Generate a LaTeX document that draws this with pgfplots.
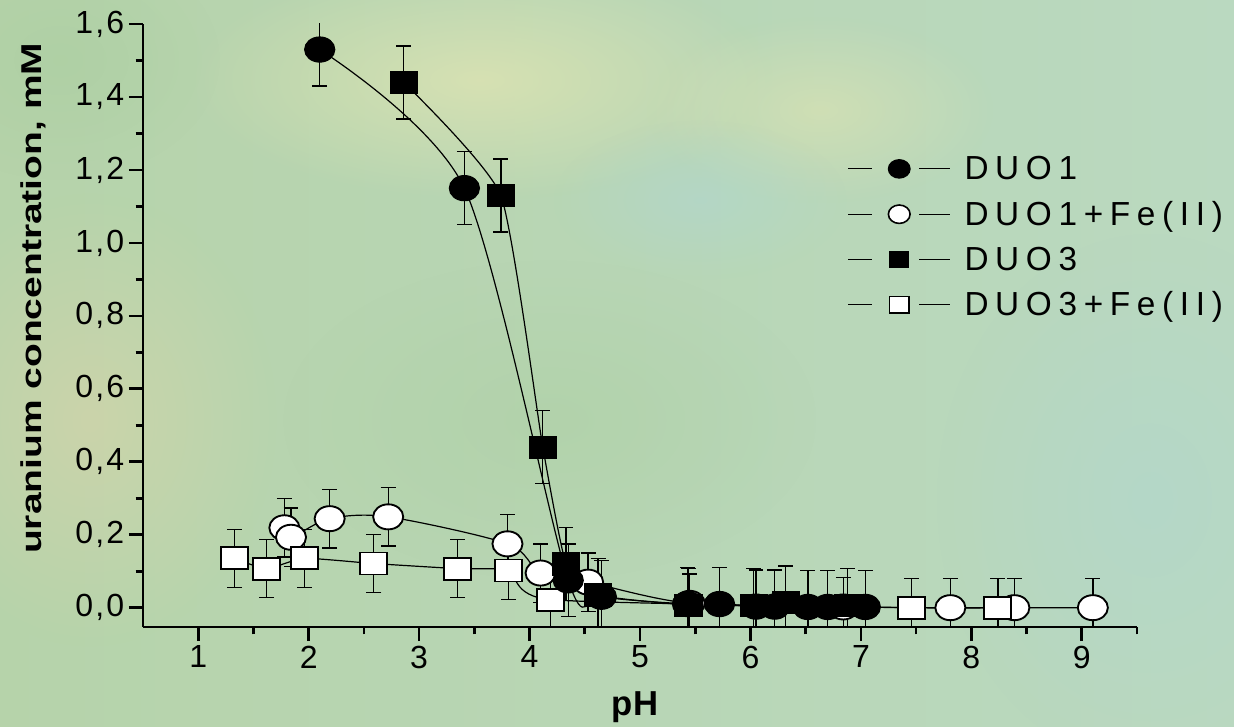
\documentclass[border=0pt]{standalone}
\usepackage{fontspec}
\setmainfont{Liberation Sans}
\newfontfamily\tickfamily[LetterSpace=7]{Liberation Sans}
\newfontfamily\legfamily[LetterSpace=20]{Liberation Sans}
\usepackage{graphicx}
\usepackage{pgfplots}
\usepackage{pgfplotstable}
\pgfplotsset{compat=1.18}
\usetikzlibrary{calc,backgrounds,fadings}

\tikzfading[name=softspot, inner color=transparent!0, outer color=transparent!100]

\definecolor{bgA}{RGB}{182,211,170}
\definecolor{bgB}{RGB}{206,224,182}
\definecolor{bgC}{RGB}{186,217,192}
\definecolor{tintY}{RGB}{222,228,178}
\definecolor{tintB}{RGB}{178,215,204}
\definecolor{tintT}{RGB}{212,212,170}
\definecolor{tintG}{RGB}{172,207,162}

% pH, concentration (mM), error
\pgfplotstableread{
x y e
2.10 1.53 0.1
3.41 1.15 0.1
4.35 0.075 0.1
4.65 0.030 0.1
5.43 0.010 0.1
5.72 0.010 0.1
6.05 0.003 0.1
6.22 0.003 0.1
6.52 0.002 0.1
6.70 0.002 0.1
7.04 0.002 0.1
}\duoone

\pgfplotstableread{
x y e
1.78 0.219 0.08
1.84 0.193 0.08
2.19 0.244 0.08
2.72 0.249 0.08
3.80 0.175 0.08
4.10 0.095 0.08
4.53 0.070 0.08
5.45 0.012 0.08
6.84 0.002 0.08
7.81 0.000 0.08
8.39 0.000 0.08
9.10 0.000 0.08
}\duoonefe

\pgfplotstableread{
x y e
2.86 1.44 0.1
3.74 1.13 0.1
4.12 0.44 0.1
4.33 0.12 0.1
4.62 0.035 0.1
5.44 0.007 0.1
6.03 0.007 0.1
6.32 0.014 0.1
6.88 0.007 0.1
}\duothree

\pgfplotstableread{
x y e
1.33 0.135 0.08
1.62 0.107 0.08
1.96 0.135 0.08
2.59 0.121 0.08
3.35 0.107 0.08
3.81 0.102 0.08
4.19 0.022 0.08
7.46 0.000 0.08
8.24 0.000 0.08
}\duothreefe

\begin{document}
\begin{tikzpicture}
\begin{axis}[
  scale only axis,
  width=745.5pt, height=452.25pt,
  xmin=0.5, xmax=9.5, ymin=-0.053, ymax=1.6,
  axis lines*=left,
  axis line style={line width=2pt, black},
  tick style={line width=2pt, black},
  tick align=outside,
  major tick length=10.5pt,
  minor tick length=5.5pt,
  xtick={1,2,3,4,5,6,7,8,9},
  minor xtick={1.5,2.5,3.5,4.5,5.5,6.5,7.5,8.5,9.5},
  ytick={0,0.2,0.4,0.6,0.8,1.0,1.2,1.4,1.6},
  minor ytick={0.1,0.3,0.5,0.7,0.9,1.1,1.3,1.5},
  /pgf/number format/assume math mode=true,
  ticklabel style={font=\tickfamily\fontsize{24}{28}\selectfont},
  yticklabel style={/pgf/number format/.cd, fixed, fixed zerofill, precision=1, use comma},
  xticklabel style={/pgf/number format/.cd, fixed, precision=0},
  xlabel={pH},
  xlabel style={font=\bfseries\fontsize{26}{30}\selectfont, at={(axis description cs:0.495,-0.146)}, anchor=base},
  ylabel={\scalebox{1.36}[1]{uranium concentration, mM}},
  ylabel style={font=\bfseries\fontsize{21.5}{24}\selectfont, at={(axis description cs:-0.11,0.545)}, anchor=center, rotate=0},
  error bars/error bar style={line width=1pt, black, solid},
  error bars/error mark options={rotate=90, mark size=5.6pt, line width=1pt, black},
  % fixed row height; the line is broken around the marker
  legend image code/.code={
    \path[draw=none, fill=none] (0pt,-17pt) rectangle (76.5pt,17pt);
    \draw[#1, mark=none] (0pt,0pt) -- (18pt,0pt);
    \draw[#1, mark=none] (53.25pt,0pt) -- (76.5pt,0pt);
    \draw[#1] plot coordinates {(38.25pt,0pt)};
  },
  legend cell align=left,
  legend style={draw=none, fill=none, at={(axis cs:6.88,1.265)}, anchor=north west,
    inner sep=0pt, outer sep=0pt, row sep=0pt, column sep=8.25pt,
    font=\legfamily\fontsize{25}{30}\selectfont},
]
\coordinate (BL) at (rel axis cs:0,0);
\coordinate (TR) at (rel axis cs:1,1);

% open circles: DUO1 + Fe(II)
\addplot[forget plot, black, line width=0.9pt, smooth, tension=0.5, mark=*,
  mark size=9.4pt, mark options={fill=white, line width=1.4pt, xscale=1.2},
  error bars/.cd, y dir=both, y explicit]
  table[x=x, y=y, y error=e] {\duoonefe};
% open squares: DUO3 + Fe(II)
\addplot[forget plot, black, line width=0.9pt, smooth, tension=0.35, mark=square*,
  mark size=8.25pt, mark options={fill=white, line width=1.4pt, xscale=1.23},
  error bars/.cd, y dir=both, y explicit]
  table[x=x, y=y, y error=e] {\duothreefe};
% filled circles: DUO1
\addplot[forget plot, black, line width=0.9pt, smooth, tension=0.45, mark=*,
  mark size=9.4pt, mark options={fill=black, xscale=1.2},
  error bars/.cd, y dir=both, y explicit]
  table[x=x, y=y, y error=e] {\duoone};
% filled squares: DUO3
\addplot[forget plot, black, line width=0.9pt, smooth, tension=0.3, mark=square*,
  mark size=8.25pt, mark options={fill=black, xscale=1.23},
  error bars/.cd, y dir=both, y explicit]
  table[x=x, y=y, y error=e] {\duothree};

\addlegendimage{black, line width=0.9pt, mark=*, mark size=6.9pt, mark options={fill=black, xscale=1.18}}
\addlegendentry{DUO1}
\addlegendimage{black, line width=0.9pt, mark=*, mark size=6.9pt, mark options={fill=white, line width=1.2pt, xscale=1.18}}
\addlegendentry{DUO1+Fe(II)}
\addlegendimage{black, line width=0.9pt, mark=square*, mark size=6.25pt, mark options={fill=black, xscale=1.15}}
\addlegendentry{DUO3}
\addlegendimage{black, line width=0.9pt, mark=square*, mark size=6.25pt, mark options={fill=white, line width=1.2pt, xscale=1.15}}
\addlegendentry{DUO3+Fe(II)}
\end{axis}

\coordinate (P1) at ($(BL)+(-107.25pt,-74.25pt)$);
\coordinate (P2) at ($(TR)+(72.75pt,18pt)$);
\coordinate (TL) at (P1 |- P2);
\begin{pgfonlayer}{background}
  \shade[left color=bgA, middle color=bgB, right color=bgC] (P1) rectangle (P2);
  \begin{scope}
    \clip (P1) rectangle (P2);
    \fill[tintY, path fading=softspot, fill opacity=0.8] ($(TL)+(0.75*480pt,-0.75*80pt)$) ellipse (220pt and 90pt);
    \fill[tintY, path fading=softspot, fill opacity=0.6] ($(TL)+(0.75*820pt,-0.75*110pt)$) ellipse (130pt and 70pt);
    \fill[tintB, path fading=softspot, fill opacity=0.7] ($(TL)+(0.75*700pt,-0.75*200pt)$) ellipse (110pt and 60pt);
    \fill[tintB, path fading=softspot, fill opacity=0.7] ($(TL)+(0.75*1150pt,-0.75*500pt)$) ellipse (160pt and 200pt);
    \fill[tintT, path fading=softspot, fill opacity=0.7] ($(TL)+(0.75*90pt,-0.75*420pt)$) ellipse (140pt and 170pt);
    \fill[tintG, path fading=softspot, fill opacity=0.7] ($(TL)+(0.75*60pt,-0.75*60pt)$) ellipse (120pt and 90pt);
    \fill[tintG, path fading=softspot, fill opacity=0.5] ($(TL)+(0.75*550pt,-0.75*420pt)$) ellipse (200pt and 120pt);
  \end{scope}
\end{pgfonlayer}
\pgfresetboundingbox
\path[use as bounding box] (P1) rectangle (P2);
\end{tikzpicture}
\end{document}
